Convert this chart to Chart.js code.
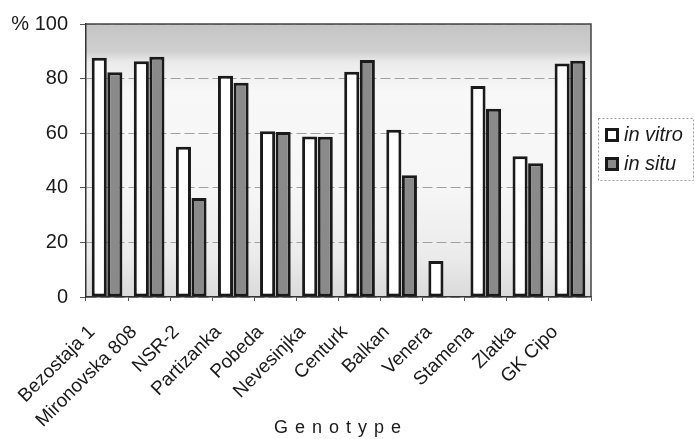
<!DOCTYPE html>
<html><head><meta charset="utf-8">
<script src="https://cdn.jsdelivr.net/npm/chart.js@4.4.1/dist/chart.umd.min.js"></script>
<style>html,body{margin:0;padding:0;background:#fff}#wrap{width:694px;height:439px;position:relative}</style>
</head><body><div id="wrap"><canvas id="c" width="694" height="439"></canvas></div>
<script>
const genotypes = ['Bezostaja 1','Mironovska 808','NSR-2','Partizanka','Pobeda','Nevesinjka','Centurk','Balkan','Venera','Stamena','Zlatka','GK Cipo'];
const inVitro = [87.6, 86.4, 55.0, 81.0, 60.7, 58.8, 82.5, 61.3, 13.2, 77.3, 51.6, 85.5];
const inSitu  = [82.3, 88.0, 36.3, 78.5, 60.4, 58.7, 86.8, 44.6, 0, 69.0, 49.0, 86.5];
const seriesNames = ['in vitro', 'in situ'];
const yTickValues = [0, 20, 40, 60, 80, 100];
const yUnitLabel = '%';
const xTitle = 'Genotype';

const FAM = '"Liberation Sans", Arial, sans-serif';

const bgPlugin = {
  id: 'bg',
  beforeDraw(chart) {
    const {ctx, chartArea: a} = chart;
    const g = ctx.createLinearGradient(0, a.top, 0, a.bottom);
    g.addColorStop(0, '#c4c4c4');
    g.addColorStop(0.10, '#cfcfcf');
    g.addColorStop(0.14, '#ebebeb');
    g.addColorStop(0.25, '#f8f8f8');
    g.addColorStop(0.6, '#f6f6f6');
    g.addColorStop(0.85, '#ebebeb');
    g.addColorStop(1, '#dadada');
    ctx.save();
    ctx.fillStyle = g;
    ctx.fillRect(a.left, a.top, a.right - a.left, a.bottom - a.top);
    ctx.restore();
  },
  afterDatasetsDraw(chart) {
    const {ctx, chartArea: a} = chart;
    ctx.save();
    ctx.strokeStyle = '#444';
    ctx.lineWidth = 1.5;
    ctx.beginPath();
    ctx.moveTo(a.left, a.top); ctx.lineTo(a.right, a.top); ctx.lineTo(a.right, a.bottom);
    ctx.stroke();
    ctx.restore();
  }
};

const legendPlugin = {
  id: 'customLegend',
  afterDraw(chart) {
    const ctx = chart.ctx;
    ctx.save();
    ctx.fillStyle = '#fff';
    ctx.fillRect(598, 118, 95, 63);
    ctx.strokeStyle = '#999';
    ctx.lineWidth = 1;
    ctx.setLineDash([2, 2]);
    ctx.strokeRect(598.5, 118.5, 95, 62);
    ctx.setLineDash([]);
    chart.data.datasets.forEach((ds, i) => {
      const y = 128 + i * 29;
      ctx.fillStyle = ds.backgroundColor;
      ctx.fillRect(605, y, 14, 14);
      ctx.strokeStyle = '#1a1a1a';
      ctx.lineWidth = 3;
      ctx.strokeRect(606.5, y + 1.5, 11, 11);
      ctx.fillStyle = '#1a1a1a';
      ctx.font = 'italic 20px ' + FAM;
      ctx.textBaseline = 'middle';
      ctx.textAlign = 'left';
      ctx.fillText(ds.label, 624, y + 7);
    });
    ctx.restore();
  }
};

const titlePlugin = {
  id: 'xTitle',
  afterDraw(chart) {
    const ctx = chart.ctx;
    ctx.save();
    ctx.font = '18px ' + FAM;
    ctx.fillStyle = '#1a1a1a';
    ctx.letterSpacing = '7px';
    ctx.textBaseline = 'middle';
    ctx.textAlign = 'center';
    ctx.fillText(xTitle, 341, 428);
    ctx.restore();
  }
};

new Chart(document.getElementById('c'), {
  type: 'bar',
  data: {
    labels: genotypes,
    datasets: [
      { label: seriesNames[0], data: inVitro, backgroundColor: '#ffffff', borderColor: '#1a1a1a', borderWidth: 3, borderSkipped: false },
      { label: seriesNames[1], data: inSitu, backgroundColor: '#8a8a8a', borderColor: '#1a1a1a', borderWidth: 3, borderSkipped: false }
    ]
  },
  options: {
    responsive: false,
    devicePixelRatio: 1,
    animation: false,
    categoryPercentage: 0.74,
    barPercentage: 0.97,
    layout: { padding: { top: 22, right: 103, left: 0, bottom: 0 } },
    plugins: { legend: { display: false }, tooltip: { enabled: false } },
    scales: {
      x: {
        grid: { display: true, drawOnChartArea: false, drawTicks: true, tickLength: 4, tickColor: '#555', offset: true },
        border: { display: true, color: '#333', width: 1.5 },
        ticks: { autoSkip: false, minRotation: 45, maxRotation: 45, padding: 20, labelOffset: -15, color: '#1a1a1a', font: { size: 19, family: FAM } },
        afterFit(s) { s.height = 142; }
      },
      y: {
        min: 0, max: 100,
        afterBuildTicks(s) { s.ticks = yTickValues.map(v => ({ value: v })); },
        grid: { color: '#a0a0a0', lineWidth: 1, tickLength: 6, tickColor: '#555', tickBorderDash: [] },
        border: { display: true, color: '#333', width: 1.5, dash: [10, 4] },
        ticks: { padding: 12, color: '#1a1a1a', font: { size: 20, family: FAM }, callback: v => v === 100 ? yUnitLabel + ' ' + v : String(v) },
        afterFit(s) { s.width = 86; }
      }
    }
  },
  plugins: [bgPlugin, legendPlugin, titlePlugin]
});
</script>
</body></html>
